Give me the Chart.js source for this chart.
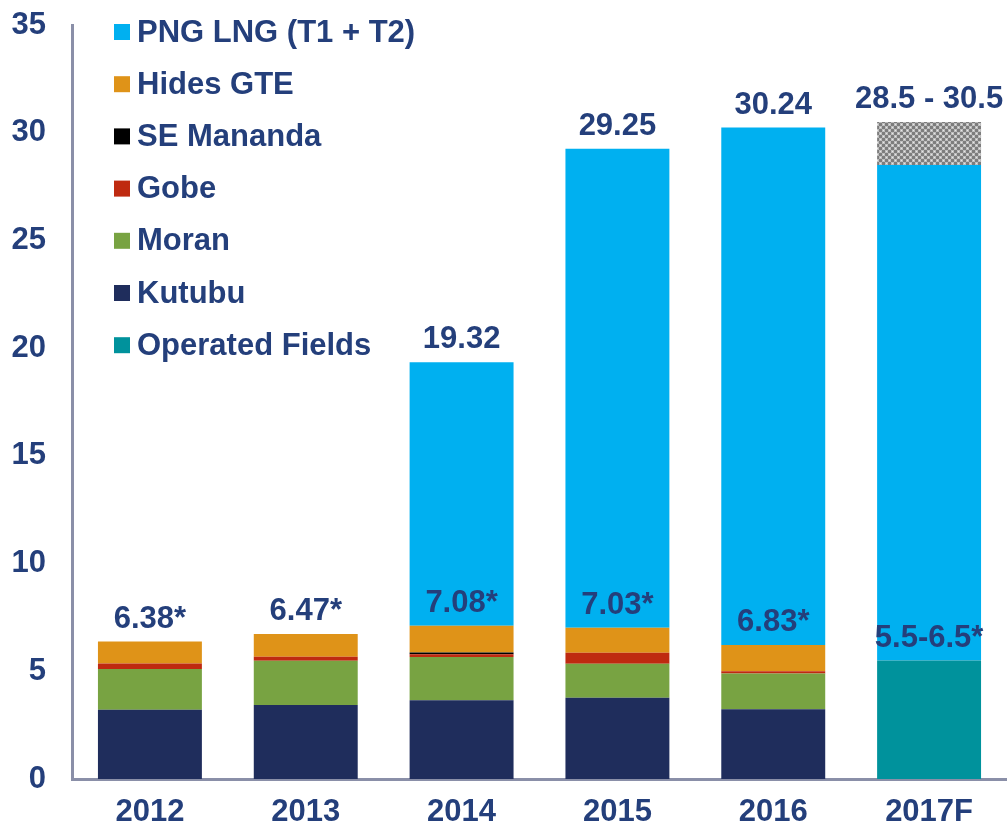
<!DOCTYPE html>
<html>
<head>
<meta charset="utf-8">
<script src="https://cdn.jsdelivr.net/npm/chart.js@4/dist/chart.umd.min.js"></script>
<style>
  html,body{margin:0;padding:0;background:#fff;}
  #wrap{width:1007px;height:828px;position:relative;}
</style>
</head>
<body>
<div id="wrap"><canvas id="c"></canvas></div>
<script>
/* ---------- data ---------- */
const years     = ['2012','2013','2014','2015','2016','2017F'];
const operated  = [0, 0, 0, 0, 0, 5.5];
const kutubu    = [3.22, 3.44, 3.66, 3.77, 3.24, 0];
const moran     = [1.89, 2.05, 2.00, 1.58, 1.66, 0];
const gobe      = [0.25, 0.18, 0.13, 0.51, 0.10, 0];
const seMananda = [0, 0, 0.08, 0, 0, 0];
const hides     = [1.02, 1.06, 1.24, 1.16, 1.22, 0];
const pngLng    = [0, 0, 12.24, 22.23, 24.02, 23.0];
const range2017 = [0, 0, 0, 0, 0, 2.0];
const baseLabels = ['6.38*','6.47*','7.08*','7.03*','6.83*','5.5-6.5*'];
const topLabels  = ['', '', '19.32', '29.25', '30.24', '28.5 - 30.5'];
const yTicks     = [0, 5, 10, 15, 20, 25, 30, 35];

const NAVY='#243f7b', FONT='"Liberation Sans", Arial, sans-serif', FS=31;

/* grey hatch for the forecast range */
function hatch(){
  const p=document.createElement('canvas'); p.width=6; p.height=6;
  const g=p.getContext('2d');
  g.fillStyle='#bdbdbd'; g.fillRect(0,0,6,6);
  g.fillStyle='#7d7d7d';
  g.fillRect(0,0,3,3); g.fillRect(3,3,3,3);
  g.fillStyle='#e6e6e6'; g.fillRect(1,4,1,1); g.fillRect(4,1,1,1);
  return g.createPattern(p,'repeat');
}

const ds = (label,data,color,isBase=false) => ({label,data,backgroundColor:color,borderWidth:0,stack:'s',isBase});
const datasets = [
  ds('Operated Fields', operated, '#00929c', true),
  ds('Kutubu', kutubu, '#1f2d5c', true),
  ds('Moran', moran, '#78a342', true),
  ds('Gobe', gobe, '#bf2a10', true),
  ds('SE Mananda', seMananda, '#000000', true),
  ds('Hides GTE', hides, '#df9318', true),
  ds('PNG LNG (T1 + T2)', pngLng, '#00b0f0'),
  ds('Range', range2017, hatch()),
];
const legendOrder = ['PNG LNG (T1 + T2)','Hides GTE','SE Mananda','Gobe','Moran','Kutubu','Operated Fields'];

/* ---------- plugins: legend box + value labels ---------- */
const legendPlugin = {
  id:'boxLegend',
  afterDraw(chart){
    const ctx=chart.ctx; ctx.save();
    ctx.font=`bold ${FS}px ${FONT}`; ctx.textBaseline='middle'; ctx.textAlign='left';
    legendOrder.forEach((name,i)=>{
      const d=chart.data.datasets.find(x=>x.label===name);
      const y=32+i*52.2;
      ctx.fillStyle=d.backgroundColor; ctx.fillRect(114,y-8,16,16);
      ctx.fillStyle=NAVY; ctx.fillText(name,137,y+1);
    });
    ctx.restore();
  }
};

const valuePlugin = {
  id:'values',
  afterDatasetsDraw(chart){
    const ctx=chart.ctx; ctx.save();
    ctx.font=`bold ${FS}px ${FONT}`; ctx.fillStyle=NAVY; ctx.textAlign='center'; ctx.textBaseline='alphabetic';
    years.forEach((_,i)=>{
      let baseTop=Infinity, top=Infinity, x=0;
      chart.data.datasets.forEach((d,di)=>{
        const el=chart.getDatasetMeta(di).data[i]; x=el.x;
        if(d.isBase) baseTop=Math.min(baseTop,el.y);
        top=Math.min(top,el.y);
      });
      ctx.fillText(baseLabels[i],x,baseTop-14);
      if(topLabels[i]) ctx.fillText(topLabels[i],x,top-14);
    });
    ctx.restore();
  }
};

/* ---------- chart ---------- */
new Chart(document.getElementById('c'),{
  type:'bar',
  data:{labels:years,datasets},
  plugins:[legendPlugin,valuePlugin],
  options:{
    responsive:true, maintainAspectRatio:false, animation:false,
    layout:{padding:{top:25,right:0,left:0,bottom:0}},
    datasets:{bar:{categoryPercentage:1,barPercentage:0.667}},
    plugins:{legend:{display:false},tooltip:{enabled:false}},
    scales:{
      x:{
        stacked:true,
        grid:{display:false,drawTicks:false},
        border:{display:true,color:'#8a8fa8',width:3},
        ticks:{color:NAVY,font:{family:FONT,size:FS,weight:'bold'},padding:15},
        afterFit(s){ s.height=49; }
      },
      y:{
        stacked:true, min:0, max:35,
        afterBuildTicks(s){ s.ticks=yTicks.map(v=>({value:v})); },
        grid:{display:false,drawTicks:true,tickLength:26},
        border:{display:true,color:'#8a8fa8',width:3},
        ticks:{color:NAVY,font:{family:FONT,size:FS,weight:'bold'},padding:0},
        afterFit(s){ s.width=72; s.paddingTop=0; s.paddingBottom=0; }
      }
    }
  }
});
</script>
</body>
</html>
